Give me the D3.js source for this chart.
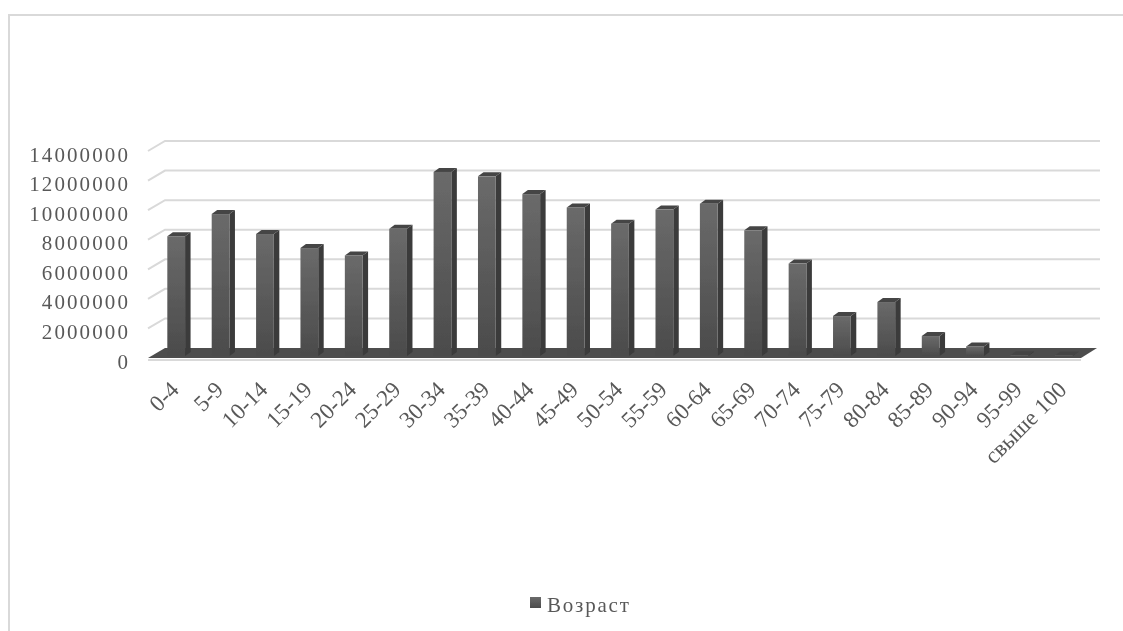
<!DOCTYPE html>
<html>
<head>
<meta charset="utf-8">
<script src="https://cdn.jsdelivr.net/npm/d3@7"></script>
<style>
body { margin: 0; background: #fff; }
text { font-family: "Liberation Serif", serif; fill: #595959; }
</style>
</head>
<body>
<svg id="canvas" width="1123" height="631"></svg>
<script>
let ageGroups = ['0-4','5-9','10-14','15-19','20-24','25-29','30-34','35-39','40-44','45-49','50-54','55-59','60-64','65-69','70-74','75-79','80-84','85-89','90-94','95-99','свыше 100']
let population = [8100000,9600000,8250000,7300000,6800000,8600000,12450000,12150000,10950000,10050000,8950000,9900000,10300000,8500000,6250000,2700000,3650000,1350000,650000,50000,30000]
let yTicks = [0,2000000,4000000,6000000,8000000,10000000,12000000,14000000]
let seriesName = 'Возраст'

let canvas = d3.select('#canvas')

// front plane of the fake 3d box, the back wall is shifted by depth
let depthX = 17
let depthY = 10
let barDepthX = 5.5
let barDepthY = 4

let x = d3.scaleBand().domain(ageGroups).range([154, 1086]).paddingInner(0.6).paddingOuter(0.3)
let y = d3.scaleLinear().domain([0, 14000000]).range([358, 151])

let defs = canvas.append('defs')
let grad = defs.append('linearGradient').attr('id', 'front').attr('x1', 0).attr('y1', 0).attr('x2', 0).attr('y2', 1)
grad.append('stop').attr('offset', '0%').attr('stop-color', '#6a6a6a')
grad.append('stop').attr('offset', '100%').attr('stop-color', '#4b4b4b')
defs.append('filter').attr('id', 'soft').append('feGaussianBlur').attr('stdDeviation', 0.6)

let chart = canvas.append('g').attr('filter', 'url(#soft)')

// chart border, only top and left show in the picture
chart.append('path')
    .attr('d', 'M9,631V15H1123')
    .attr('fill', 'none')
    .attr('stroke', '#d9d9d9')
    .attr('stroke-width', 2)

// gridlines
let x0 = 148, x1 = 1083
chart.selectAll('.grid')
    .data(yTicks.filter(t => t > 0))
    .enter()
    .append('path')
    .attr('class', 'grid')
    .attr('d', t => `M${x0},${y(t)}L${x0 + depthX},${y(t) - depthY}H${x1 + depthX}`)
    .attr('fill', 'none')
    .attr('stroke', '#d9d9d9')
    .attr('stroke-width', 2)

// floor
chart.append('path')
    .attr('d', `M${x0},${y(0)}L${x0 + depthX},${y(0) - depthY}H${x1 + depthX - 3}L${x1 - 2},${y(0)}Z`)
    .attr('fill', '#4d4d4d')
chart.append('path')
    .attr('d', `M${x0},${y(0) + 2}H${x1 - 2}`)
    .attr('stroke', '#d9d9d9')
    .attr('stroke-width', 2)

// bars, sides first then top and front
let barBase = y(0) - 2
let barTop = d => barBase - (y(0) - y(d.value))
let bars = chart.selectAll('.bar')
    .data(ageGroups.map((name, i) => ({ name: name, value: population[i] })))
    .enter()
    .append('g')
    .attr('class', 'bar')

bars.append('path')
    .attr('d', d => {
        let r = x(d.name) + x.bandwidth()
        return `M${r},${barTop(d)}l${barDepthX},${-barDepthY}V${barBase - barDepthY}l${-barDepthX},${barDepthY}Z`
    })
    .attr('fill', '#3a3a3a')
bars.append('path')
    .attr('d', d => `M${x(d.name)},${barTop(d)}l${barDepthX},${-barDepthY}h${x.bandwidth()}l${-barDepthX},${barDepthY}Z`)
    .attr('fill', '#454545')
bars.append('rect')
    .attr('x', d => x(d.name))
    .attr('y', d => barTop(d))
    .attr('width', x.bandwidth())
    .attr('height', d => barBase - barTop(d))
    .attr('fill', 'url(#front)')

// value labels
chart.selectAll('.ylab')
    .data(yTicks)
    .enter()
    .append('text')
    .attr('class', 'ylab')
    .attr('x', 130)
    .attr('y', t => y(t) + 10.5)
    .attr('text-anchor', 'end')
    .attr('font-size', 21)
    .attr('letter-spacing', 2.1)
    .text(t => t)

// age labels
chart.selectAll('.xlab')
    .data(ageGroups)
    .enter()
    .append('text')
    .attr('class', 'xlab')
    .attr('text-anchor', 'end')
    .attr('font-size', 23)
    .attr('transform', d => `translate(${x(d) + x.bandwidth() / 2 + 4},${y(0) + 33}) rotate(-45)`)
    .text(d => d)

// legend
chart.append('rect')
    .attr('x', 530).attr('y', 597).attr('width', 11).attr('height', 11)
    .attr('fill', 'url(#front)')
chart.append('text')
    .attr('x', 547).attr('y', 612)
    .attr('font-size', 21)
    .attr('letter-spacing', 1.8)
    .text(seriesName)
</script>
</body>
</html>
